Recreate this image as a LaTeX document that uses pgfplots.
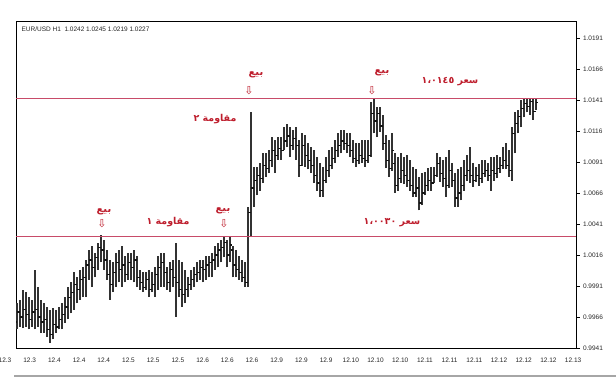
\documentclass[border=0pt]{standalone}
\usepackage{pgfplots}
\pgfplotsset{compat=1.18}
\usepackage{pgfplotstable}
\usepackage{fontspec}
\setmainfont{Liberation Sans}
\newfontfamily\arabicfont[Script=Arabic]{DejaVu Sans}
\newfontfamily\symfont{DejaVu Sans}
\TeXXeTstate=1
\definecolor{barc}{RGB}{50,50,50}
\definecolor{barb}{RGB}{20,20,20}
\definecolor{srline}{RGB}{200,75,105}
\definecolor{annot}{RGB}{190,30,45}

% i, open, high, low, close  (EUR/USD H1)
\pgfplotstableread{
i o h l c
0 0.9962 0.9977 0.9956 0.9970
1 0.9970 0.9980 0.9958 0.9966
2 0.9966 0.9988 0.9957 0.9972
3 0.9972 0.9986 0.9958 0.9968
4 0.9968 0.9982 0.9956 0.9964
5 0.9964 0.9980 0.9958 0.9970
6 0.9970 1.0004 0.9956 0.9972
7 0.9972 0.9990 0.9958 0.9966
8 0.9966 0.9980 0.9953 0.9962
9 0.9962 0.9977 0.9953 0.9964
10 0.9964 0.9974 0.9950 0.9956
11 0.9956 0.9972 0.9945 0.9952
12 0.9952 0.9973 0.9948 0.9960
13 0.9960 0.9972 0.9953 0.9958
14 0.9958 0.9974 0.9956 0.9964
15 0.9964 0.9977 0.9956 0.9968
16 0.9968 0.9982 0.9961 0.9974
17 0.9974 0.9990 0.9964 0.9982
18 0.9982 0.9994 0.9969 0.9986
19 0.9986 1.0002 0.9972 0.9992
20 0.9992 0.9998 0.9977 0.9988
21 0.9988 1.0004 0.9980 0.9996
22 0.9996 1.0006 0.9982 0.9998
23 0.9998 1.0012 0.9982 1.0008
24 1.0008 1.0020 0.9996 1.0012
25 1.0012 1.0023 0.9990 1.0006
26 1.0006 1.0018 0.9998 1.0014
27 1.0014 1.0026 1.0004 1.0022
28 1.0022 1.0032 1.0010 1.0020
29 1.0020 1.0028 1.0004 1.0012
30 1.0012 1.0020 0.9996 1.0000
31 1.0000 1.0012 0.9980 0.9992
32 0.9992 1.0010 0.9986 1.0002
33 1.0002 1.0018 0.9990 1.0010
34 1.0010 1.0020 0.9994 1.0004
35 1.0004 1.0023 0.9990 1.0008
36 1.0008 1.0015 0.9994 1.0000
37 1.0000 1.0018 0.9996 1.0010
38 1.0010 1.0018 0.9996 1.0006
39 1.0006 1.0020 0.9994 1.0012
40 1.0012 1.0015 0.9990 0.9998
41 0.9998 1.0004 0.9988 0.9994
42 0.9994 1.0002 0.9986 0.9990
43 0.9990 1.0002 0.9988 0.9996
44 0.9996 1.0004 0.9982 0.9988
45 0.9988 1.0002 0.9986 0.9992
46 0.9992 1.0006 0.9982 1.0000
47 1.0000 1.0015 0.9988 1.0006
48 1.0006 1.0018 0.9990 1.0010
49 1.0010 1.0018 0.9990 1.0002
50 1.0002 1.0006 0.9988 0.9994
51 0.9994 1.0010 0.9986 1.0004
52 1.0004 1.0012 0.9990 0.9998
53 0.9998 1.0026 0.9966 0.9994
54 0.9994 1.0012 0.9982 0.9988
55 0.9988 1.0010 0.9974 0.9984
56 0.9984 1.0004 0.9977 0.9988
57 0.9988 0.9998 0.9982 0.9992
58 0.9992 1.0004 0.9988 0.9996
59 0.9996 1.0006 0.9990 1.0000
60 1.0000 1.0010 0.9994 1.0002
61 1.0002 1.0012 0.9996 1.0006
62 1.0006 1.0012 0.9994 1.0004
63 1.0004 1.0015 0.9996 1.0008
64 1.0008 1.0015 0.9998 1.0010
65 1.0010 1.0018 0.9998 1.0012
66 1.0012 1.0023 1.0004 1.0016
67 1.0016 1.0026 1.0006 1.0020
68 1.0020 1.0028 1.0010 1.0022
69 1.0022 1.0031 1.0014 1.0026
70 1.0026 1.0028 1.0006 1.0016
71 1.0016 1.0031 1.0010 1.0024
72 1.0020 1.0023 0.9998 1.0008
73 1.0008 1.0020 0.9998 1.0004
74 1.0004 1.0015 0.9996 1.0002
75 1.0002 1.0012 0.9994 0.9998
76 0.9998 1.0010 0.9990 0.9994
77 0.9994 1.0055 0.9990 1.0050
78 1.0050 1.0131 1.0031 1.0070
79 1.0070 1.0087 1.0055 1.0076
80 1.0076 1.0087 1.0064 1.0080
81 1.0080 1.0090 1.0068 1.0078
82 1.0078 1.0098 1.0074 1.0088
83 1.0088 1.0098 1.0079 1.0086
84 1.0086 1.0101 1.0082 1.0092
85 1.0092 1.0111 1.0087 1.0100
86 1.0100 1.0109 1.0082 1.0096
87 1.0096 1.0111 1.0093 1.0102
88 1.0102 1.0111 1.0093 1.0100
89 1.0100 1.0119 1.0101 1.0108
90 1.0108 1.0122 1.0103 1.0112
91 1.0112 1.0119 1.0095 1.0104
92 1.0104 1.0117 1.0101 1.0110
93 1.0110 1.0119 1.0093 1.0104
94 1.0104 1.0109 1.0079 1.0088
95 1.0088 1.0114 1.0088 1.0104
96 1.0104 1.0113 1.0087 1.0096
97 1.0096 1.0106 1.0085 1.0092
98 1.0092 1.0103 1.0082 1.0088
99 1.0088 1.0101 1.0074 1.0080
100 1.0080 1.0095 1.0068 1.0074
101 1.0074 1.0090 1.0063 1.0068
102 1.0068 1.0087 1.0063 1.0076
103 1.0076 1.0095 1.0074 1.0084
104 1.0084 1.0101 1.0079 1.0088
105 1.0088 1.0103 1.0085 1.0094
106 1.0094 1.0109 1.0090 1.0100
107 1.0100 1.0114 1.0095 1.0104
108 1.0104 1.0117 1.0098 1.0108
109 1.0108 1.0117 1.0101 1.0106
110 1.0106 1.0114 1.0098 1.0104
111 1.0104 1.0114 1.0095 1.0100
112 1.0100 1.0109 1.0090 1.0094
113 1.0094 1.0106 1.0087 1.0092
114 1.0092 1.0106 1.0089 1.0096
115 1.0096 1.0109 1.0090 1.0094
116 1.0094 1.0109 1.0087 1.0092
117 1.0092 1.0109 1.0090 1.0096
118 1.0096 1.0139 1.0095 1.0130
119 1.0130 1.0143 1.0114 1.0124
120 1.0124 1.0135 1.0111 1.0130
121 1.0130 1.0135 1.0115 1.0120
122 1.0120 1.0129 1.0101 1.0106
123 1.0106 1.0113 1.0086 1.0092
124 1.0092 1.0109 1.0079 1.0086
125 1.0086 1.0114 1.0084 1.0100
126 1.0090 1.0098 1.0066 1.0072
127 1.0072 1.0095 1.0068 1.0078
128 1.0078 1.0098 1.0074 1.0084
129 1.0084 1.0095 1.0073 1.0080
130 1.0080 1.0097 1.0071 1.0076
131 1.0076 1.0093 1.0068 1.0072
132 1.0072 1.0087 1.0063 1.0066
133 1.0066 1.0085 1.0063 1.0070
134 1.0070 1.0079 1.0052 1.0058
135 1.0058 1.0082 1.0056 1.0066
136 1.0066 1.0083 1.0064 1.0072
137 1.0072 1.0086 1.0068 1.0076
138 1.0076 1.0087 1.0068 1.0074
139 1.0074 1.0087 1.0074 1.0080
140 1.0080 1.0098 1.0079 1.0090
141 1.0090 1.0095 1.0075 1.0082
142 1.0082 1.0093 1.0071 1.0078
143 1.0078 1.0095 1.0063 1.0072
144 1.0072 1.0101 1.0070 1.0084
145 1.0084 1.0090 1.0071 1.0076
146 1.0076 1.0082 1.0055 1.0062
147 1.0062 1.0085 1.0055 1.0066
148 1.0066 1.0087 1.0060 1.0072
149 1.0072 1.0093 1.0068 1.0080
150 1.0080 1.0097 1.0076 1.0084
151 1.0084 1.0103 1.0074 1.0080
152 1.0080 1.0090 1.0071 1.0076
153 1.0076 1.0087 1.0075 1.0080
154 1.0080 1.0089 1.0072 1.0078
155 1.0078 1.0093 1.0074 1.0082
156 1.0082 1.0093 1.0079 1.0084
157 1.0084 1.0090 1.0076 1.0080
158 1.0080 1.0095 1.0068 1.0084
159 1.0084 1.0095 1.0076 1.0082
160 1.0082 1.0097 1.0078 1.0086
161 1.0086 1.0095 1.0082 1.0088
162 1.0088 1.0103 1.0085 1.0092
163 1.0092 1.0106 1.0085 1.0088
164 1.0088 1.0101 1.0079 1.0084
165 1.0084 1.0119 1.0076 1.0114
166 1.0114 1.0131 1.0098 1.0122
167 1.0122 1.0133 1.0114 1.0128
168 1.0128 1.0141 1.0119 1.0134
169 1.0134 1.0143 1.0127 1.0138
170 1.0138 1.0143 1.0131 1.0136
171 1.0136 1.0143 1.0129 1.0140
172 1.0140 1.0143 1.0125 1.0132
173 1.0132 1.0143 1.0133 1.0139
}\bars

\begin{document}
\begin{tikzpicture}
\useasboundingbox (0pt,0pt) rectangle (616pt,382pt);
\begin{axis}[
  at={(16pt,34pt)}, anchor=south west,
  scale only axis, width=560pt, height=327pt,
  xmin=-0.333, xmax=186.333, ymin=0.9941, ymax=1.02047,
  axis line style={black, line width=0.9pt},
  every tick label/.append style={font=\fontsize{6.5}{7}\selectfont, text=black!85},
  ytick={0.9941,0.9966,0.9991,1.0016,1.0041,1.0066,1.0091,1.0116,1.0141,1.0166,1.0191},
  yticklabels={0.9941,0.9966,0.9991,1.0016,1.0041,1.0066,1.0091,1.0116,1.0141,1.0166,1.0191},
  ytick pos=right, yticklabel pos=right,
  ytick style={black, line width=0.6pt},
  tick align=outside, major tick length=3.5pt,
  xtick pos=bottom,
  xtick={4.23,12.47,20.70,28.93,37.17,45.40,53.63,61.87,70.10,78.33,86.57,94.80,103.03,111.27,119.50,127.73,135.97,144.20,152.43,160.67,168.90,177.13,185.37},
  xticklabels={12.3,12.4,12.4,12.4,12.5,12.5,12.5,12.6,12.6,12.6,12.9,12.9,12.9,12.10,12.10,12.10,12.11,12.11,12.11,12.12,12.12,12.12,12.13},
  extra x ticks={0},
  extra x tick labels={12.3},
  extra x tick style={xticklabel style={xshift=-12pt}},
  xtick style={draw=none},
  xticklabel style={yshift=-3pt},
  clip=true,
]
\addplot[barc, line width=1.2pt, quiver={u=0, v=\thisrow{h}-\thisrow{l}}] table[x=i, y=l] {\bars};
\addplot[barb, line width=1.2pt, quiver={u=-0.55, v=0}] table[x=i, y=o] {\bars};
\addplot[barb, line width=1.2pt, quiver={u=0.55, v=0}] table[x=i, y=c] {\bars};
\addplot[srline, line width=1.3pt] coordinates {(-0.333,1.0142) (186.333,1.0142)};
\addplot[srline, line width=1.3pt] coordinates {(-0.333,1.0031) (186.333,1.0031)};
\end{axis}
\node[anchor=west, font=\fontsize{6.5}{7}\selectfont, text=black!85] at (18pt,353pt) {EUR/USD H1\ \ 1.0242\ 1.0245\ 1.0219\ 1.0227};
\draw[black!35, line width=1.5pt] (14pt,6pt) -- (616pt,6pt);
\begin{scope}[every node/.style={text=annot, font=\arabicfont\bfseries\fontsize{10}{11}\selectfont, inner sep=0pt}]
\node at (104pt,170pt) {\beginR بيع\endR};
\node at (223pt,171pt) {\beginR بيع\endR};
\node at (256pt,307pt) {\beginR بيع\endR};
\node at (382pt,309pt) {\beginR بيع\endR};
\end{scope}
\begin{scope}[every node/.style={text=annot, font=\arabicfont\bfseries\fontsize{9.5}{11}\selectfont, inner sep=0pt}]
\node at (168pt,160pt) {\beginR مقاومة ١\endR};
\node at (215pt,263pt) {\beginR مقاومة ٢\endR};
\node at (392pt,159pt) {\beginR سعر \beginL ١،٠٠٣٠\endL\endR};
\node at (450pt,300pt) {\beginR سعر \beginL ١،٠١٤٥\endL\endR};
\end{scope}
\begin{scope}[every node/.style={text=annot, font=\symfont\fontsize{11}{11}\selectfont, inner sep=0pt}]
\node at (102pt,158pt) {⇩};
\node at (224pt,158pt) {⇩};
\node at (249pt,291pt) {⇩};
\node at (372pt,291pt) {⇩};
\end{scope}
\end{tikzpicture}
\end{document}
